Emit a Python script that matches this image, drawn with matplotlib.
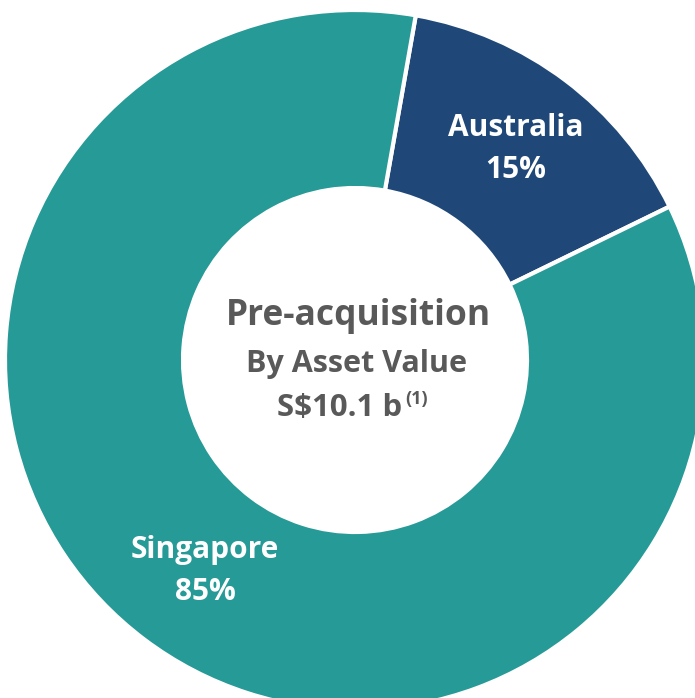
import numpy as np
import matplotlib
matplotlib.use('Agg')
import matplotlib.pyplot as plt

# data
regions = ['Australia', 'Singapore']
shares = [15, 85]
colors = ['#1F4878', '#269A96']
center_lines = ['Pre-acquisition', 'By Asset Value']
total_text = 'S$10.1 b'
footnote = '(1)'

plt.rcParams['font.family'] = ['Open Sans', 'DejaVu Sans']

W, H = 695, 698
fig = plt.figure(figsize=(W / 100, H / 100), dpi=100)
ax = fig.add_axes([0, 0, 1, 1])

cx, cy = 355, H - 360
r_out, r_in = 350, 172
wedges, _ = ax.pie(shares, colors=colors, radius=r_out, center=(cx, cy),
                   startangle=80, counterclock=False, frame=True,
                   wedgeprops=dict(width=r_out - r_in, edgecolor='white', linewidth=3))
ax.set_xlim(0, W)
ax.set_ylim(0, H)
ax.set_aspect('equal')
ax.axis('off')

# wedge labels at middle of each wedge
x_nudge = [2, 9]
for w, name, val, dx in zip(wedges, regions, shares, x_nudge):
    mid = np.deg2rad((w.theta1 + w.theta2) / 2)
    lx = cx + 264 * np.cos(mid) + dx
    ly = cy + 264 * np.sin(mid)
    ax.text(lx, ly, f'{name}\n{val}%', color='white', fontsize=21.5, fontweight='bold',
            ha='center', va='center', linespacing=1.5)

# centre text
ax.text(cx + 3, H - 316, center_lines[0], color='#595959', fontsize=25.5,
        fontweight='bold', ha='center', va='center')
ax.text(cx + 2, H - 364, center_lines[1], color='#595959', fontsize=22,
        fontweight='bold', ha='center', va='center')
ax.text(cx - 15, H - 408, total_text, color='#595959', fontsize=22.5,
        fontweight='bold', ha='center', va='center')
ax.text(cx + 50, H - 399, footnote, color='#595959', fontsize=13,
        fontweight='bold', ha='left', va='center')

fig.savefig('out.png', dpi=100)
